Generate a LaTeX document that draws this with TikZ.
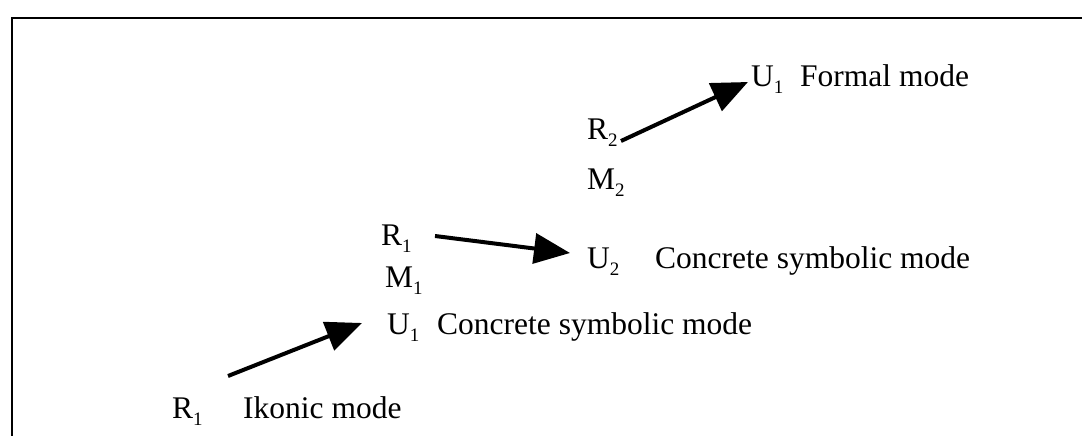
\documentclass[tikz,border=0pt]{standalone}
\usepackage{fontspec}
\setmainfont{Liberation Serif}
\usetikzlibrary{arrows.meta}
\newcommand{\mysub}[1]{\raisebox{-0.25em}{\fontsize{19}{19}\selectfont #1}}
\tikzset{
  lbl/.style={anchor=base west, inner sep=0pt, font=\fontsize{31.5}{36}\selectfont},
  arr/.style={line width=4pt, -{Triangle[length=36pt,width=30pt]}},
  frame/.style={line width=1.6pt}
}
\begin{document}
\begin{tikzpicture}[x=1pt,y=-1pt]
\useasboundingbox (0,0) rectangle (1082,436);
\fill[white] (0,0) rectangle (1082,436);
\draw[frame] (12,436) -- (12,18) -- (1082,18);
\node[lbl] (fu) at (751,86) {U\mysub{1}};
\node[lbl] (ft) at (800,86) {Formal mode};
\node[lbl] (r2) at (587,139) {R\mysub{2}};
\node[lbl] (m2) at (587,189) {M\mysub{2}};
\node[lbl] (u2) at (587,268) {U\mysub{2}};
\node[lbl] (u2t) at (655,268) {Concrete symbolic mode};
\node[lbl] (r1m) at (381,245) {R\mysub{1}};
\node[lbl] (m1) at (385,287) {M\mysub{1}};
\node[lbl] (u1m) at (387,334) {U\mysub{1}};
\node[lbl] (u1t) at (437,334) {Concrete symbolic mode};
\node[lbl] (r1b) at (172,418) {R\mysub{1}};
\node[lbl] (ikt) at (243,418) {Ikonic mode};
\draw[arr] ([shift={(56,-42)}]r1b.base west) -- ([shift={(-25,-11)}]u1m.base west);
\draw[arr] ([shift={(54,-9)}]r1m.base west) -- ([shift={(-17,-15)}]u2.base west);
\draw[arr] ([shift={(34,2)}]r2.base west) -- ([shift={(-3,-4)}]fu.base west);
\end{tikzpicture}
\end{document}
